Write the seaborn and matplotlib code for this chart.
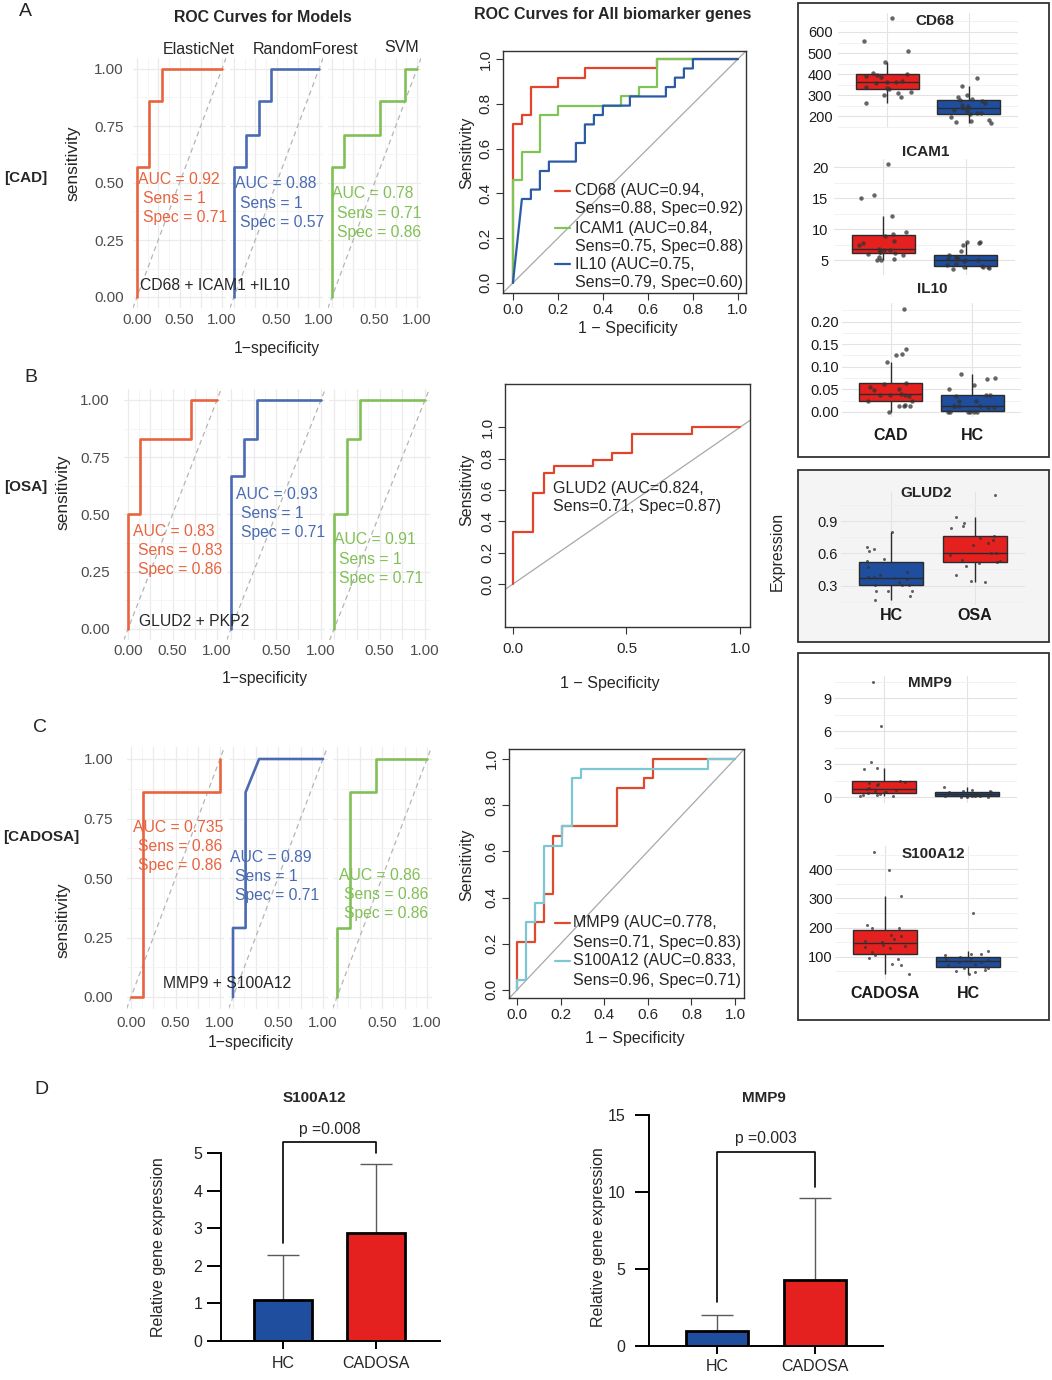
import numpy as np
import pandas as pd
import seaborn as sns
import matplotlib.pyplot as plt
from matplotlib.lines import Line2D
from matplotlib.patches import Rectangle
from matplotlib.ticker import MultipleLocator

# ---------------- values ----------------
models = ["ElasticNet", "RandomForest", "SVM"]
model_colors = ["#E8643F", "#4A6BB2", "#82C057"]

# combined-model ROC curves (step vertices: 1-specificity, sensitivity)
cad_fpr = [[0, 0, 0.14, 0.14, 0.29, 0.29, 1.0],
           [0, 0, 0.14, 0.14, 0.29, 0.29, 0.43, 0.43, 1.0],
           [0, 0, 0.14, 0.14, 0.57, 0.57, 0.86, 0.86, 1.0]]
cad_tpr = [[0, 0.57, 0.57, 0.86, 0.86, 1.0, 1.0],
           [0, 0.57, 0.57, 0.71, 0.71, 0.86, 0.86, 1.0, 1.0],
           [0, 0.57, 0.57, 0.71, 0.71, 0.86, 0.86, 1.0, 1.0]]
osa_fpr = [[0, 0, 0.14, 0.14, 0.71, 0.71, 1.0],
           [0, 0, 0.14, 0.14, 0.29, 0.29, 1.0],
           [0, 0, 0.14, 0.14, 0.29, 0.29, 1.0]]
osa_tpr = [[0, 0.5, 0.5, 0.83, 0.83, 1.0, 1.0],
           [0, 0.67, 0.67, 0.83, 0.83, 1.0, 1.0],
           [0, 0.5, 0.5, 0.83, 0.83, 1.0, 1.0]]
cadosa_fpr = [[0, 0.14, 0.14, 1.0, 1.0],
              [0, 0, 0.14, 0.14, 0.29, 1.0],
              [0, 0, 0.14, 0.14, 0.43, 0.43, 1.0]]
cadosa_tpr = [[0, 0, 0.86, 0.86, 1.0],
              [0, 0.29, 0.29, 0.86, 1.0, 1.0],
              [0, 0.29, 0.29, 0.86, 0.86, 1.0, 1.0]]

cad_stats = [("0.92", "1", "0.71"), ("0.88", "1", "0.57"), ("0.78", "0.71", "0.86")]
osa_stats = [("0.83", "0.83", "0.86"), ("0.93", "1", "0.71"), ("0.91", "1", "0.71")]
cadosa_stats = [("0.735", "0.86", "0.86"), ("0.89", "1", "0.71"), ("0.86", "0.86", "0.86")]

# single-gene ROC curves
cd68_fpr = [0, 0, 0.04, 0.04, 0.08, 0.08, 0.2, 0.2, 0.32, 0.32, 0.64, 0.64, 1]
cd68_tpr = [0, 0.708, 0.708, 0.75, 0.75, 0.875, 0.875, 0.917, 0.917, 0.958, 0.958, 1, 1]
icam1_fpr = [0, 0, 0.04, 0.04, 0.12, 0.12, 0.2, 0.2, 0.48, 0.48, 0.56, 0.56, 0.64, 0.64, 1]
icam1_tpr = [0, 0.458, 0.458, 0.583, 0.583, 0.75, 0.75, 0.792, 0.792, 0.833, 0.833,
             0.875, 0.875, 1, 1]
il10_fpr = [0, 0.04, 0.08, 0.08, 0.12, 0.12, 0.16, 0.16, 0.28, 0.28, 0.32, 0.32, 0.36, 0.36,
            0.40, 0.40, 0.52, 0.52, 0.68, 0.68, 0.72, 0.72, 0.76, 0.76, 0.80, 0.80, 1]
il10_tpr = [0, 0.375, 0.375, 0.417, 0.417, 0.5, 0.5, 0.542, 0.542, 0.625, 0.625, 0.708, 0.708,
            0.75, 0.75, 0.792, 0.792, 0.833, 0.833, 0.875, 0.875, 0.917, 0.917, 0.958, 0.958, 1, 1]
glud2_fpr = [0, 0, 0.088, 0.088, 0.135, 0.135, 0.179, 0.179, 0.353, 0.353, 0.438, 0.438,
             0.525, 0.525, 0.787, 0.787, 1]
glud2_tpr = [0, 0.333, 0.333, 0.583, 0.583, 0.708, 0.708, 0.75, 0.75, 0.792, 0.792, 0.833,
             0.833, 0.958, 0.958, 1, 1]
mmp9_fpr = [0, 0, 0.083, 0.083, 0.125, 0.125, 0.167, 0.167, 0.208, 0.208, 0.458, 0.458,
            0.583, 0.583, 0.625, 0.625, 1]
mmp9_tpr = [0, 0.208, 0.208, 0.292, 0.292, 0.417, 0.417, 0.667, 0.667, 0.708, 0.708, 0.875,
            0.875, 0.917, 0.917, 1, 1]
s100_fpr = [0, 0, 0.042, 0.042, 0.083, 0.083, 0.125, 0.125, 0.208, 0.208, 0.25, 0.25,
            0.292, 0.292, 0.875, 0.875, 1]
s100_tpr = [0, 0.042, 0.042, 0.292, 0.292, 0.375, 0.375, 0.625, 0.625, 0.708, 0.708, 0.917,
            0.917, 0.958, 0.958, 1, 1]

# expression values (box + jitter panels)
cd68_cad = [265, 290, 300, 310, 315, 330, 335, 340, 360, 362, 365, 370, 385, 390, 395, 400,
            405, 460, 510, 555, 665]
cd68_hc = [170, 172, 178, 185, 195, 212, 215, 218, 225, 232, 238, 242, 248, 255, 262, 275,
           280, 282, 290, 300, 345, 380]
icam1_cad = [5.0, 5.1, 5.3, 5.6, 5.9, 6.1, 6.2, 6.3, 6.4, 6.6, 6.7, 6.9, 7.5, 7.8, 8.2, 9.0,
             9.2, 9.6, 12.2, 15.0, 15.5, 20.5]
icam1_hc = [3.6, 3.8, 3.9, 3.9, 4.0, 4.1, 4.2, 4.5, 4.9, 5.0, 5.1, 5.2, 5.3, 5.4, 5.5, 5.8,
            6.5, 7.5, 7.8, 7.9, 8.0]
il10_cad = [0.0, 0.012, 0.012, 0.013, 0.015, 0.025, 0.025, 0.035, 0.037, 0.038, 0.038, 0.040,
            0.048, 0.05, 0.055, 0.062, 0.065, 0.11, 0.125, 0.128, 0.14, 0.228]
il10_hc = [0, 0, 0, 0, 0, 0, 0.01, 0.011, 0.012, 0.012, 0.012, 0.013, 0.025, 0.025, 0.036,
           0.037, 0.038, 0.05, 0.06, 0.072, 0.075, 0.085]
glud2_hc = [0.17, 0.20, 0.25, 0.25, 0.25, 0.31, 0.31, 0.31, 0.33, 0.36, 0.37, 0.38, 0.38, 0.40,
            0.43, 0.47, 0.53, 0.55, 0.62, 0.64, 0.66, 0.80]
glud2_osa = [0.33, 0.34, 0.40, 0.48, 0.51, 0.52, 0.53, 0.54, 0.58, 0.60, 0.60, 0.68, 0.70,
             0.72, 0.74, 0.76, 0.84, 0.85, 0.88, 0.94, 1.14]
mmp9_cadosa = [0.1, 0.15, 0.2, 0.25, 0.3, 0.4, 0.45, 0.5, 0.6, 0.7, 0.75, 0.8, 1.1, 1.2, 1.3,
               1.4, 1.45, 2.6, 2.7, 3.2, 6.5, 10.5]
mmp9_hc = [0, 0.05, 0.05, 0.1, 0.1, 0.15, 0.15, 0.2, 0.2, 0.25, 0.3, 0.3, 0.35, 0.4, 0.45,
           0.5, 0.55, 0.6, 0.7, 0.9]
s100_cadosa = [40, 72, 75, 90, 95, 105, 115, 130, 132, 135, 140, 150, 155, 160, 170, 175, 198,
               200, 210, 310, 398, 460]
s100_hc = [40, 45, 50, 55, 60, 62, 65, 70, 75, 80, 82, 85, 85, 88, 90, 95, 100, 105, 110, 110,
           120, 250]

# qPCR bars (mean, upward SD)
bar_groups = ["HC", "CADOSA"]
s100_qpcr_mean = [1.1, 2.87]
s100_qpcr_sd = [1.2, 1.83]
mmp9_qpcr_mean = [1.0, 4.3]
mmp9_qpcr_sd = [1.0, 5.3]
s100_bracket = [2.6, 5.29, 5.0]
mmp9_bracket = [2.88, 12.6, 10.35]

RED, BLUE = "#E4211E", "#1F4E9E"

# ---------------- figure ----------------
sns.set_style("white")
plt.rcParams["font.family"] = ["Liberation Sans", "DejaVu Sans"]

W, H = 1052, 1380
fig = plt.figure(figsize=(W / 100, H / 100), dpi=100)


def px_rect(l, t, r, b):
    return [l / W, 1 - b / H, (r - l) / W, (b - t) / H]


def ftext(x, y, s, **kw):
    kw.setdefault("ha", "left")
    kw.setdefault("va", "center")
    return fig.text(x / W, 1 - y / H, s, **kw)


def mapped_axes(x0, x1, y0, y1, xlim, ylim):
    l = x0 + xlim[0] * (x1 - x0)
    r = x0 + xlim[1] * (x1 - x0)
    t = y0 - ylim[1] * (y0 - y1)
    b = y0 - ylim[0] * (y0 - y1)
    return fig.add_axes(px_rect(l, t, r, b))


def model_row(fprs, tprs, stats, xs, ys, txt_pos, ypad, xpad):
    for i in range(3):
        ax = mapped_axes(xs[i][0], xs[i][1], ys[0], ys[1], (-0.05, 1.05), (-0.05, 1.05))
        ax.patch.set_alpha(0)
        ax.axline((0, 0), (1, 1), color="#B5B5B5", lw=0.9, ls=(0, (4, 3)), zorder=1)
        sns.lineplot(x=fprs[i], y=tprs[i], sort=False, estimator=None,
                     color=model_colors[i], lw=1.9, ax=ax, zorder=3)
        ax.set_xlim(-0.05, 1.05)
        ax.set_ylim(-0.05, 1.05)
        ax.set_xticks([0, 0.25, 0.5, 0.75, 1])
        ax.set_xticks(np.arange(0.125, 1, 0.25), minor=True)
        ax.set_yticks([0, 0.25, 0.5, 0.75, 1])
        ax.set_yticks(np.arange(0.125, 1, 0.25), minor=True)
        if i == 0:
            ax.set_xticklabels(["0.00", "", "0.50", "", "1.00"])
            ax.set_yticklabels(["0.00", "0.25", "0.50", "0.75", "1.00"])
        else:
            ax.set_xticklabels(["", "", "0.50", "", "1.00"])
            ax.set_yticklabels([])
        ax.grid(which="major", color="#EBEBEB", lw=0.9)
        ax.grid(which="minor", color="#F4F4F4", lw=0.6)
        ax.set_axisbelow(True)
        ax.tick_params(which="both", length=0, labelsize=11, labelcolor="#4D4D4D")
        ax.tick_params(axis="x", pad=xpad)
        ax.tick_params(axis="y", pad=ypad)
        for s in ax.spines.values():
            s.set_visible(False)
        ax.set_xlabel("")
        ax.set_ylabel("")
        tx, ty = txt_pos[i]
        auc, sens, spec = stats[i]
        c = model_colors[i]
        ftext(tx, ty, f"AUC = {auc}", color=c, fontsize=11.3, zorder=10)
        ftext(tx + 5, ty + 19.3, f"Sens = {sens}", color=c, fontsize=11.3, zorder=10)
        ftext(tx + 5, ty + 38.6, f"Spec = {spec}", color=c, fontsize=11.3, zorder=10)


def gene_roc(rect, xlim, ylim, xticks, curves, ypad=2.5, xpad=2.0):
    ax = fig.add_axes(px_rect(*rect))
    ax.axline((0, 0), (1, 1), color="#A8A8A8", lw=0.9, zorder=1)
    for fpr, tpr, col in curves:
        sns.lineplot(x=fpr, y=tpr, sort=False, estimator=None, color=col, lw=1.6,
                     ax=ax, zorder=3)
    ax.set_xlim(xlim)
    ax.set_ylim(ylim)
    ax.set_xticks(xticks)
    ax.set_xticklabels([f"{v:.1f}" for v in xticks])
    yt = [0, 0.2, 0.4, 0.6, 0.8, 1.0]
    ax.set_yticks(yt)
    ax.set_yticklabels([f"{v:.1f}" for v in yt])
    ax.tick_params(left=True, bottom=True, direction="out", length=5, width=0.8,
                   labelsize=11, color="#333333")
    ax.tick_params(axis="y", pad=ypad)
    ax.tick_params(axis="x", pad=xpad)
    for lbl in ax.get_yticklabels():
        lbl.set_rotation(90)
        lbl.set_va("center")
    for s in ax.spines.values():
        s.set_color("#333333")
        s.set_linewidth(1.0)
    ax.set_xlabel("")
    ax.set_ylabel("")
    return ax


def legend_rows(entries, x_line, x_text):
    for col, txt, y in entries:
        if col is not None:
            fig.add_artist(Line2D([x_line[0] / W, x_line[1] / W], [1 - y / H, 1 - y / H],
                                  color=col, lw=1.6))
        ftext(x_text, y, txt, fontsize=11.5)


def box_panel(rect, order, values, colors, ylim, yticks, minor, show_x, xpad, ypad, pt):
    ax = fig.add_axes(px_rect(*rect))
    ax.patch.set_alpha(0)
    df = pd.DataFrame({"group": np.repeat(order, [len(v) for v in values]),
                       "value": np.concatenate(values)})
    sns.boxplot(data=df, x="group", y="value", hue="group", order=order, hue_order=order,
                palette=colors, width=0.77, showfliers=False, linewidth=1.0,
                linecolor="#2B2B2B", saturation=1, legend=False, ax=ax,
                capprops={"visible": False})
    sns.stripplot(data=df, x="group", y="value", order=order, color="#333333", size=pt,
                  jitter=0.3, alpha=0.75, ax=ax, zorder=3)
    ax.set_xlim(-0.6, 1.6)
    ax.set_ylim(ylim)
    ax.set_yticks(yticks)
    ax.yaxis.set_minor_locator(MultipleLocator(minor))
    ax.grid(which="major", color="#E3E3E3", lw=0.8)
    ax.grid(which="minor", axis="y", color="#EFEFEF", lw=0.6)
    ax.set_axisbelow(True)
    for s in ax.spines.values():
        s.set_visible(False)
    ax.tick_params(which="both", length=0, labelsize=10.5, labelcolor="#1A1A1A")
    ax.tick_params(axis="y", pad=ypad)
    ax.tick_params(axis="x", pad=xpad)
    ax.set_xticks([0, 1])
    if show_x:
        ax.set_xticklabels(order, fontsize=11.5, fontweight="bold")
    else:
        ax.set_xticklabels(["", ""])
    ax.set_xlabel("")
    ax.set_ylabel("")
    return ax


def bar_panel(rect, xlim, ylim, yticks, means, sds, bracket, ptxt, ypad, xpad):
    ax = fig.add_axes(px_rect(*rect))
    sns.barplot(x=bar_groups, y=means, hue=bar_groups, palette=[BLUE, RED], width=0.63,
                edgecolor="black", linewidth=2.0, saturation=1, legend=False,
                errorbar=None, ax=ax)
    ax.errorbar([0, 1], means, yerr=[[0, 0], sds], fmt="none", ecolor="#5A5A5A",
                elinewidth=1.0, capsize=11.5, capthick=1.0, zorder=0.5)
    ax.plot([0, 0, 1, 1], [bracket[0], bracket[1], bracket[1], bracket[2]], color="black",
            lw=1.2, clip_on=False)
    ax.annotate(ptxt, xy=(0.5, bracket[1]), xytext=(0, 4), textcoords="offset points",
                ha="center", va="bottom", fontsize=11.3, annotation_clip=False)
    ax.set_xlim(xlim)
    ax.set_ylim(ylim)
    ax.set_yticks(yticks)
    for s in ["top", "right"]:
        ax.spines[s].set_visible(False)
    for s in ["left", "bottom"]:
        ax.spines[s].set_linewidth(1.4)
        ax.spines[s].set_color("black")
    ax.tick_params(axis="y", left=True, direction="out", length=10, width=1.4,
                   labelsize=11.5, pad=ypad, color="black")
    ax.tick_params(axis="x", bottom=True, direction="out", length=5.5, width=1.4,
                   labelsize=11.5, pad=xpad, color="black")
    ax.set_xlabel("")
    ax.set_ylabel("")
    return ax


# ---------- column 1: model ROC facets ----------
model_row(cad_fpr, cad_tpr, cad_stats, [(137, 222), (234, 319), (332, 417)], (297, 69),
          [(138, 179), (235, 184), (332, 194)], ypad=6.5, xpad=3)
model_row(osa_fpr, osa_tpr, osa_stats, [(128, 217), (231, 321), (334, 425)], (629, 400),
          [(133, 531), (236, 494), (334, 540)], ypad=10, xpad=2.5)
model_row(cadosa_fpr, cadosa_tpr, cadosa_stats, [(131, 220), (233, 323), (337, 427)],
          (997, 759), [(133, 827), (230, 857), (339, 875)], ypad=9.5, xpad=5)

ftext(263, 17, "ROC Curves for Models", ha="center", fontsize=11.4, fontweight="bold")
ftext(199, 49, models[0], ha="center", fontsize=11.5)
ftext(306, 49, models[1], ha="center", fontsize=11.5)
ftext(402, 47, models[2], ha="center", fontsize=11.5)
ftext(140, 286, "CD68 + ICAM1 +IL10", fontsize=11.3, zorder=10)
ftext(139, 622, "GLUD2 + PKP2", fontsize=11.3, zorder=10)
ftext(163, 984, "MMP9 + S100A12", fontsize=11.3, zorder=10)
for x, y in [(73, 163), (63, 492), (63, 920)]:
    ftext(x, y, "sensitivity", ha="center", rotation=90, fontsize=12.5)
for x, y in [(277, 348), (265, 678), (251, 1042)]:
    ftext(x, y, "1\u2212specificity", ha="center", fontsize=11.3)
ftext(4, 178, "[CAD]", fontsize=11, fontweight="bold")
ftext(4, 487, "[OSA]", fontsize=11, fontweight="bold")
ftext(3, 837, "[CADOSA]", fontsize=11, fontweight="bold")
ftext(19, 12, "A", fontsize=14)
ftext(24, 377, "B", fontsize=14)
ftext(33, 728, "C", fontsize=14)
ftext(34, 1090, "D", fontsize=14)

# ---------- column 2: single-gene ROC ----------
gene_roc((503, 51, 746, 293), (-0.044, 1.036), (-0.045, 1.036), [0, 0.2, 0.4, 0.6, 0.8, 1.0],
         [(cd68_fpr, cd68_tpr, "#E5432B"), (icam1_fpr, icam1_tpr, "#80C356"),
          (il10_fpr, il10_tpr, "#2C5BA6")])
gene_roc((505, 384, 750, 627), (-0.035, 1.044), (-0.274, 1.276), [0, 0.5, 1.0],
         [(glud2_fpr, glud2_tpr, "#E0452C")], xpad=6)
gene_roc((509, 749, 744, 998), (-0.037, 1.041), (-0.035, 1.043), [0, 0.2, 0.4, 0.6, 0.8, 1.0],
         [(mmp9_fpr, mmp9_tpr, "#DD4A2D"), (s100_fpr, s100_tpr, "#7DC7D5")])

ftext(613, 14, "ROC Curves for All biomarker genes", ha="center", fontsize=11.5,
      fontweight="bold")
for x, y in [(467, 153), (467, 490), (467, 865)]:
    ftext(x, y, "Sensitivity", ha="center", rotation=90, fontsize=11.5)
for x, y in [(628, 328), (610, 683), (635, 1038)]:
    ftext(x, y, "1 \u2212 Specificity", ha="center", fontsize=11.5)

legend_rows([("#E5432B", "CD68 (AUC=0.94,", 191), (None, "Sens=0.88, Spec=0.92)", 209),
             ("#80C356", "ICAM1 (AUC=0.84,", 228), (None, "Sens=0.75, Spec=0.88)", 246),
             ("#2C5BA6", "IL10 (AUC=0.75,", 264), (None, "Sens=0.79, Spec=0.60)", 282)],
            (555, 570), 575)
legend_rows([(None, "GLUD2 (AUC=0.824,", 488), (None, "Sens=0.71, Spec=0.87)", 507)],
            (0, 0), 553)
legend_rows([("#DD4A2D", "MMP9 (AUC=0.778,", 923), (None, "Sens=0.71, Spec=0.83)", 942),
             ("#7DC7D5", "S100A12 (AUC=0.833,", 961), (None, "Sens=0.96, Spec=0.71)", 980)],
            (555, 570), 573)

# ---------- column 3: expression boxplots ----------
np.random.seed(7)
fig.add_artist(Rectangle((797 / W, 1 - 642 / H), 252 / W, 172 / H, transform=fig.transFigure,
                         facecolor="#F4F4F4", edgecolor="none", zorder=-1))
for t, b in [(3, 457), (470, 642), (653, 1020)]:
    fig.add_artist(Rectangle((798 / W, 1 - b / H), 251 / W, (b - t) / H,
                             transform=fig.transFigure, facecolor="none",
                             edgecolor="#333333", lw=1.3, zorder=5))

cad_pal = {"CAD": RED, "HC": BLUE}
box_panel((838, 13, 1018, 128), ["CAD", "HC"], [cd68_cad, cd68_hc], cad_pal, (145, 690),
          [200, 300, 400, 500, 600], 50, False, 0, 4, 3.2)
box_panel((834, 159, 1015, 275), ["CAD", "HC"], [icam1_cad, icam1_hc], cad_pal,
          (2.65, 21.35), [5, 10, 15, 20], 2.5, False, 0, 4, 3.2)
box_panel((842, 303, 1021, 417), ["CAD", "HC"], [il10_cad, il10_hc], cad_pal,
          (-0.0115, 0.2415), [0, 0.05, 0.1, 0.15, 0.2], 0.025, True, 8, 2, 3.2)
box_panel((841, 492, 1025, 605), ["HC", "OSA"], [glud2_hc, glud2_osa],
          {"HC": BLUE, "OSA": RED}, (0.12, 1.17), [0.3, 0.6, 0.9], 0.15, True, 2, 2, 2.2)
box_panel((834, 676, 1017, 803), ["CADOSA", "HC"], [mmp9_cadosa, mmp9_hc],
          {"CADOSA": RED, "HC": BLUE}, (-0.52, 11.0), [0, 3, 6, 9], 1.5, False, 0, 2, 2.2)
box_panel((835, 846, 1018, 980), ["CADOSA", "HC"], [s100_cadosa, s100_hc],
          {"CADOSA": RED, "HC": BLUE}, (19, 481), [100, 200, 300, 400], 50, True, 4, 1.5, 2.2)

for (x, y), s in zip([(935, 21), (926, 152), (932, 289), (926, 493), (930, 683), (933, 854)],
                     ["CD68", "ICAM1", "IL10", "GLUD2", "MMP9", "S100A12"]):
    ftext(x, y, s, ha="center", fontsize=11, fontweight="bold", zorder=10)
ftext(777, 551, "Expression", ha="center", rotation=90, fontsize=11.5)

# ---------- panel D: qPCR bars ----------
bar_panel((221, 1153, 440, 1341), (-0.667, 1.688), (0, 5), [0, 1, 2, 3, 4, 5],
          s100_qpcr_mean, s100_qpcr_sd, s100_bracket, "p =0.008", ypad=3.5, xpad=5)
bar_panel((649, 1115, 883, 1346), (-0.694, 1.694), (0, 15), [0, 5, 10, 15],
          mmp9_qpcr_mean, mmp9_qpcr_sd, mmp9_bracket, "p =0.003", ypad=7, xpad=4)
ftext(314, 1098, "S100A12", ha="center", fontsize=11, fontweight="bold")
ftext(764, 1098, "MMP9", ha="center", fontsize=11, fontweight="bold")
ftext(158, 1247, "Relative gene expression", ha="center", rotation=90, fontsize=11.5)
ftext(598, 1237, "Relative gene expression", ha="center", rotation=90, fontsize=11.5)

fig.savefig("out.png", dpi=100)
